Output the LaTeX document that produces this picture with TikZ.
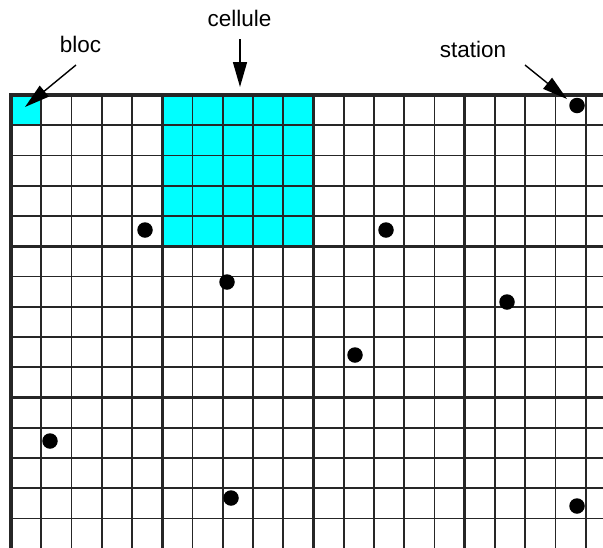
\documentclass[tikz,border=0pt]{standalone}
\usepackage{fontspec}
\setmainfont{Liberation Sans}
\usetikzlibrary{arrows.meta}
\definecolor{cellcyan}{RGB}{0,255,255}
\begin{document}
\begin{tikzpicture}[x=1pt,y=-1pt,
  thinline/.style={line width=1.6pt,draw=black!85},
  thickline/.style={line width=3.2pt,draw=black!85},
  station/.style={circle,fill=black,inner sep=0pt,minimum size=15.5pt},
  lbl/.style={font=\fontsize{22.5}{27}\selectfont,inner sep=0pt,anchor=base},
  pointer/.style={line width=1.4pt,-{Triangle[length=25pt,width=14pt]}}]
\useasboundingbox (0,0) rectangle (603,547);
\begin{scope}
\clip (0,0) rectangle (603,547);
% cyan areas
\fill[cellcyan] (11,95) rectangle (41.25,125.25);
\fill[cellcyan] (162.25,95) rectangle (313.5,246.25);
% thin grid
\foreach \i in {1,...,19}{
  \draw[thinline] ({11+\i*30.25},95) -- ({11+\i*30.25},560);
}
\foreach \j in {1,...,15}{
  \draw[thinline] (11,{95+\j*30.25}) -- (615,{95+\j*30.25});
}
% thick grid
\foreach \i in {0,5,10,15}{
  \draw[thickline] ({11+\i*30.25},93.4) -- ({11+\i*30.25},560);
}
\foreach \j in {0,5,10}{
  \draw[thickline] (9.4,{95+\j*30.25}) -- (615,{95+\j*30.25});
}
\end{scope}
% stations
\node[station] (s1) at (145,230) {};
\node[station] (s2) at (386,230) {};
\node[station] (s3) at (577,105.5) {};
\node[station] (s4) at (227,282) {};
\node[station] (s5) at (507,302) {};
\node[station] (s6) at (355,355) {};
\node[station] (s7) at (50,441) {};
\node[station] (s8) at (231,498) {};
\node[station] (s9) at (577,506) {};
% labels
\node[lbl] (lbloc) at (80.5,52) {bloc};
\node[lbl] (lcell) at (239.5,26) {cellule};
\node[lbl] (lstat) at (473,57) {station};
% arrows
\coordinate (blocT) at (76,65);
\coordinate (blocH) at (25,107);
\coordinate (cellT) at (240,39);
\coordinate (cellH) at (240,87);
\coordinate (statT) at (525,65);
\coordinate (statH) at (567,99);
\draw[pointer] (blocT) -- (blocH);
\draw[pointer] (cellT) -- (cellH);
\draw[pointer] (statT) -- (statH);
\end{tikzpicture}
\end{document}
